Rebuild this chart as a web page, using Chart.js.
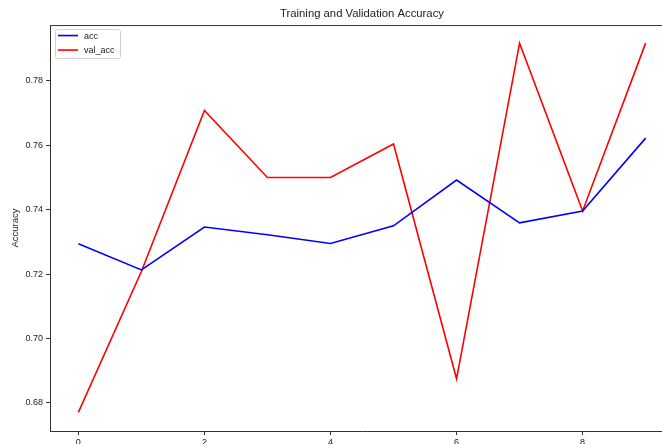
<!DOCTYPE html>
<html>
<head>
<meta charset="utf-8">
<script src="https://cdn.jsdelivr.net/npm/chart.js@4/dist/chart.umd.min.js"></script>
<style>
  html, body { margin: 0; padding: 0; background: #fff; overflow: hidden; }
  #wrap { width: 662px; height: 444px; overflow: hidden; position: relative; }
  #box { width: 690px; height: 460px; position: absolute; left: 0; top: 0; }
</style>
</head>
<body>
<div id="wrap"><div id="box"><canvas id="c"></canvas></div></div>
<script>
// Per-epoch accuracy history
const epochs = [0, 1, 2, 3, 4, 5, 6, 7, 8, 9];
const acc = [0.7294, 0.7213, 0.7346, 0.7322, 0.7295, 0.7350, 0.7492, 0.7359, 0.7396, 0.7622];
const valAcc = [0.6771, 0.7208, 0.7708, 0.7500, 0.7500, 0.7604, 0.6875, 0.7917, 0.7396, 0.7917];
const xTicks = [0, 2, 4, 6, 8];
const yTicks = [0.68, 0.70, 0.72, 0.74, 0.76, 0.78];

const FONT = 'Liberation Sans, Arial, Helvetica, sans-serif';
const AXIS = '#333';

// top spine of the axes frame
const frame = {
  id: 'frame',
  afterDraw(chart) {
    const { ctx, chartArea: a } = chart;
    ctx.save();
    ctx.strokeStyle = AXIS;
    ctx.lineWidth = 1;
    ctx.beginPath();
    ctx.moveTo(a.left, a.top + 0.5);
    ctx.lineTo(a.right, a.top + 0.5);
    ctx.stroke();
    ctx.restore();
  }
};

// legend box in the upper-left corner of the plot
const cornerLegend = {
  id: 'cornerLegend',
  afterDraw(chart) {
    const { ctx, chartArea: a } = chart;
    const x = a.left + 5, y = a.top + 4, w = 65, h = 29, r = 2;
    ctx.save();
    ctx.fillStyle = 'rgba(255,255,255,0.85)';
    ctx.strokeStyle = '#d0d0d0';
    ctx.lineWidth = 1;
    ctx.beginPath();
    ctx.roundRect(x + 0.5, y + 0.5, w, h, r);
    ctx.fill();
    ctx.stroke();
    ctx.font = '9px ' + FONT;
    ctx.textBaseline = 'middle';
    chart.data.datasets.forEach((ds, i) => {
      const ly = y + 6.5 + i * 14.5;
      ctx.strokeStyle = ds.borderColor;
      ctx.lineWidth = 1.6;
      ctx.beginPath();
      ctx.moveTo(x + 3, ly);
      ctx.lineTo(x + 23, ly);
      ctx.stroke();
      ctx.fillStyle = '#222';
      ctx.fillText(ds.label, x + 29, ly + 0.5);
    });
    ctx.restore();
  }
};

new Chart(document.getElementById('c'), {
  type: 'line',
  data: {
    datasets: [
      {
        label: 'acc',
        data: epochs.map((e, i) => ({ x: e, y: acc[i] })),
        borderColor: '#0000ff',
        borderWidth: 1.6,
        pointRadius: 0,
        tension: 0,
        fill: false
      },
      {
        label: 'val_acc',
        data: epochs.map((e, i) => ({ x: e, y: valAcc[i] })),
        borderColor: '#ff0000',
        borderWidth: 1.6,
        pointRadius: 0,
        tension: 0,
        fill: false
      }
    ]
  },
  options: {
    responsive: true,
    maintainAspectRatio: false,
    animation: false,
    layout: { padding: { top: 0, left: 0, right: 16, bottom: 0 } },
    plugins: {
      legend: { display: false },
      tooltip: { enabled: false },
      title: {
        display: true,
        text: 'Training and Validation Accuracy',
        fullSize: false,
        color: '#222',
        font: { family: FONT, size: 11.3, weight: 'normal' },
        padding: { top: 7.5, bottom: 4 }
      }
    },
    scales: {
      x: {
        type: 'linear',
        min: -0.45,
        max: 9.45,
        afterBuildTicks(s) { s.ticks = xTicks.map(v => ({ value: v })); },
        afterFit(s) { s.height = 29; },
        grid: { drawOnChartArea: false, drawTicks: true, tickLength: 4, tickColor: AXIS },
        border: { display: true, color: AXIS, width: 1 },
        ticks: {
          color: '#222',
          padding: 2,
          maxRotation: 0,
          font: { family: FONT, size: 9 },
          callback: v => String(v)
        }
      },
      y: {
        type: 'linear',
        min: 0.6713,
        max: 0.7973,
        afterBuildTicks(s) { s.ticks = yTicks.map(v => ({ value: v })); },
        afterFit(s) { s.width = 50; },
        grid: { drawOnChartArea: false, drawTicks: true, tickLength: 4, tickColor: AXIS },
        border: { display: true, color: AXIS, width: 1 },
        title: {
          display: true,
          text: 'Accuracy',
          color: '#222',
          font: { family: FONT, size: 9.5 },
          padding: { top: 9.5, bottom: 0 }
        },
        ticks: {
          color: '#222',
          padding: 3,
          font: { family: FONT, size: 9 },
          callback: v => v.toFixed(2)
        }
      }
    }
  },
  plugins: [frame, cornerLegend]
});
</script>
</body>
</html>
